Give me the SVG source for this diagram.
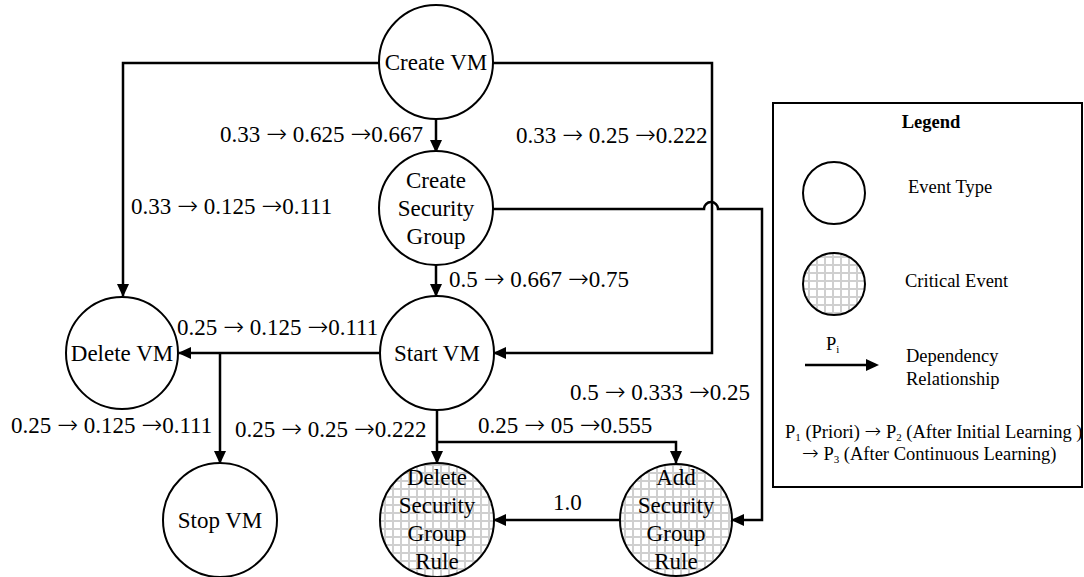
<svg xmlns="http://www.w3.org/2000/svg" width="1084" height="577" viewBox="0 0 1084 577">
<style>
.node{fill:#fff;stroke:#000;stroke-width:2}
.crit{fill:url(#grid);stroke:#000;stroke-width:2}
.nt{font-family:"Liberation Serif","Times New Roman",serif;font-size:23px;fill:#000;text-anchor:middle}
.lb{font-family:"Liberation Serif","Times New Roman",serif;font-size:23px;fill:#000}
.lg{font-family:"Liberation Serif","Times New Roman",serif;font-size:18.5px;fill:#000}
.ar{font-family:"DejaVu Sans",sans-serif;font-size:25px;font-weight:200}
.ars{font-family:"DejaVu Sans",sans-serif;font-size:20px;font-weight:200}
.edge{fill:none;stroke:#000;stroke-width:2.5;marker-end:url(#ah)}
.line{fill:none;stroke:#000;stroke-width:2.5}
</style>
<defs>
<marker id="ah" markerUnits="userSpaceOnUse" markerWidth="13" markerHeight="12" refX="12" refY="6" orient="auto">
<path d="M0,0 L13,6 L0,12 z" fill="#000"/>
</marker>
<pattern id="grid" patternUnits="userSpaceOnUse" width="8" height="8">
<rect width="8" height="8" fill="#fff"/>
<path d="M0,1 H8 M1,0 V8" stroke="#cfcfcf" stroke-width="2"/>
</pattern>
</defs>
<rect width="1084" height="577" fill="#fff"/>

<g id="connectors">
<path class="edge" d="M379,63 H123 V296"/>
<path class="edge" d="M493,63 H712 V353 H494"/>
<path class="edge" d="M436,119 V152"/>
<path class="edge" d="M493,209 H704 A7,7 0 0 1 718,209 H762 V520 H732"/>
<path class="edge" d="M436,265 V296"/>
<path class="edge" d="M380,353 H179"/>
<path class="edge" d="M220,353 V463"/>
<path class="edge" d="M437,410 V463"/>
<path class="edge" d="M437,442 H676 V463"/>
<path class="edge" d="M620,520 H494"/>
</g>

<g id="edge-labels">
<text class="lb" x="220" y="142">0.33 <tspan class="ar">→</tspan> 0.625 <tspan class="ar">→</tspan>0.667</text>
<text class="lb" x="516" y="143">0.33 <tspan class="ar">→</tspan> 0.25 <tspan class="ar">→</tspan>0.222</text>
<text class="lb" x="131" y="214">0.33 <tspan class="ar">→</tspan> 0.125 <tspan class="ar">→</tspan>0.111</text>
<text class="lb" x="449" y="287">0.5 <tspan class="ar">→</tspan> 0.667 <tspan class="ar">→</tspan>0.75</text>
<text class="lb" x="177" y="335">0.25 <tspan class="ar">→</tspan> 0.125 <tspan class="ar">→</tspan>0.111</text>
<text class="lb" x="11" y="433">0.25 <tspan class="ar">→</tspan> 0.125 <tspan class="ar">→</tspan>0.111</text>
<text class="lb" x="235" y="437">0.25 <tspan class="ar">→</tspan> 0.25 <tspan class="ar">→</tspan>0.222</text>
<text class="lb" x="570" y="400">0.5 <tspan class="ar">→</tspan> 0.333 <tspan class="ar">→</tspan>0.25</text>
<text class="lb" x="478" y="433">0.25 <tspan class="ar">→</tspan> 05 <tspan class="ar">→</tspan>0.555</text>
<text class="lb" x="553" y="510">1.0</text>
</g>

<g id="create-vm">
<circle class="node" cx="436" cy="62" r="57"/>
<text class="nt" x="436" y="70">Create VM</text>
</g>
<g id="create-security-group">
<circle class="node" cx="436" cy="208" r="57"/>
<text class="nt" x="436" y="188">Create</text>
<text class="nt" x="436" y="216">Security</text>
<text class="nt" x="436" y="244">Group</text>
</g>
<g id="start-vm">
<circle class="node" cx="437" cy="353" r="57"/>
<text class="nt" x="437" y="361">Start VM</text>
</g>
<g id="delete-vm">
<circle class="node" cx="122" cy="353" r="56"/>
<text class="nt" x="122" y="361">Delete VM</text>
</g>
<g id="stop-vm">
<circle class="node" cx="220" cy="520" r="57"/>
<text class="nt" x="220" y="528">Stop VM</text>
</g>
<g id="delete-security-group-rule">
<circle class="crit" cx="437" cy="520" r="57"/>
<text class="nt" x="437" y="485">Delete</text>
<text class="nt" x="437" y="513">Security</text>
<text class="nt" x="437" y="541">Group</text>
<text class="nt" x="437" y="569">Rule</text>
</g>
<g id="add-security-group-rule">
<circle class="crit" cx="676" cy="520" r="56"/>
<text class="nt" x="676" y="485">Add</text>
<text class="nt" x="676" y="513">Security</text>
<text class="nt" x="676" y="541">Group</text>
<text class="nt" x="676" y="569">Rule</text>
</g>

<g id="legend">
<rect x="773" y="103" width="309" height="384" fill="none" stroke="#000" stroke-width="2"/>
<text class="lg" x="931" y="128" text-anchor="middle" font-weight="bold">Legend</text>
<circle class="node" cx="834" cy="193" r="31"/>
<text class="lg" x="908" y="193">Event Type</text>
<circle class="crit" cx="834" cy="284" r="31"/>
<text class="lg" x="905" y="287">Critical Event</text>
<path class="line" d="M805,365 H866"/>
<path d="M866,359 L879,365 L866,371 z" fill="#000"/>
<text class="lg" x="826" y="350">P<tspan font-size="11" dy="3">i</tspan></text>
<text class="lg" x="906" y="362">Dependency</text>
<text class="lg" x="906" y="385">Relationship</text>
<text class="lg" x="785" y="438">P<tspan font-size="11" dy="3">1</tspan><tspan dy="-3"> (Priori) <tspan class="ars">→</tspan> P</tspan><tspan font-size="11" dy="3">2</tspan><tspan dy="-3">  (After Initial Learning )</tspan></text>
<text class="lg" x="802" y="460"><tspan class="ars">→</tspan> P<tspan font-size="11" dy="3">3</tspan><tspan dy="-3"> (After Continuous Learning)</tspan></text>
</g>
</svg>
